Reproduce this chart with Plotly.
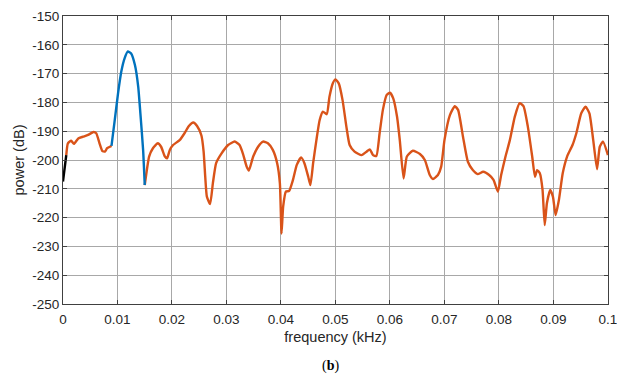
import plotly.graph_objects as go

# Black segment (start)
f_black = [0.0, 0.0006]
p_black = [-207.5, -198.3]

# Orange segment (low frequency part)
f_or1 = [0.0006, 0.0009, 0.0015, 0.0020, 0.0028, 0.0037, 0.0046, 0.0056, 0.0061,
         0.0067, 0.0072, 0.0077, 0.0081, 0.0086, 0.0089]
p_or1 = [-198.3, -194.2, -193.3, -194.4, -192.5, -191.9, -191.3, -190.3, -190.7,
         -194.2, -196.8, -197.1, -195.9, -195.4, -195.1]

# Blue segment (main peak)
f_blue = [0.0089, 0.0095, 0.0101, 0.0107, 0.0113, 0.0119, 0.0125, 0.0132, 0.0138,
          0.0142, 0.0147, 0.0150]
p_blue = [-195.1, -186.1, -176.9, -169.3, -164.7, -162.3, -163.0, -167.0, -174.5,
          -183.8, -196.5, -208.7]

# Orange segment (rest)
f_or2 = [0.0150, 0.0153, 0.0158, 0.0165, 0.0174, 0.0180, 0.0187, 0.0191, 0.0196,
         0.0202, 0.0214, 0.0223, 0.0231, 0.0239, 0.0246, 0.0254, 0.0258, 0.0261,
         0.0264, 0.0270, 0.0275, 0.0281, 0.0291, 0.0303, 0.0315, 0.0324, 0.0330,
         0.0337, 0.0341, 0.0349, 0.0358, 0.0367, 0.0376, 0.0385, 0.0393, 0.0398,
         0.0401, 0.0404, 0.0409, 0.0415, 0.0422, 0.0429, 0.0437, 0.0443, 0.0450,
         0.0454, 0.0459, 0.0465, 0.0471, 0.0477, 0.0484, 0.0489, 0.0495, 0.0500,
         0.0506, 0.0513, 0.0520, 0.0526, 0.0535, 0.0548, 0.0557, 0.0563, 0.0569,
         0.0575, 0.0581, 0.0587, 0.0594, 0.0600, 0.0606, 0.0613, 0.0618, 0.0625,
         0.0631, 0.0642, 0.0655, 0.0664, 0.0673, 0.0679, 0.0688, 0.0694, 0.0700,
         0.0710, 0.0719, 0.0725, 0.0734, 0.0743, 0.0752, 0.0761, 0.0771, 0.0782,
         0.0790, 0.0798, 0.0804, 0.0812, 0.0820, 0.0829, 0.0838, 0.0845, 0.0853,
         0.0861, 0.0866, 0.0870, 0.0875, 0.0880, 0.0884, 0.0888, 0.0894, 0.0899,
         0.0904, 0.0910, 0.0917, 0.0925, 0.0935, 0.0942, 0.0951, 0.0959, 0.0966,
         0.0973, 0.0980, 0.0985, 0.0991, 0.1000]
p_or2 = [-208.7, -204.6, -198.8, -195.9, -194.2, -195.4, -198.8, -199.4, -196.5,
         -194.8, -193.1, -190.7, -188.2, -187.0, -188.2, -191.5, -197.0, -205.8,
         -212.7, -215.3, -208.1, -201.1, -197.7, -194.8, -193.6, -194.8, -197.7,
         -202.3, -203.7, -198.8, -195.4, -193.6, -194.2, -196.5, -201.1, -208.1,
         -225.5, -216.2, -211.0, -210.7, -206.9, -201.7, -199.1, -201.1, -205.8,
         -208.7, -201.1, -193.1, -186.1, -183.2, -184.1, -178.0, -173.4, -172.0,
         -173.4, -179.2, -188.4, -194.8, -197.1, -198.3, -197.1, -196.3, -198.3,
         -198.6, -190.7, -182.6, -177.4, -176.6, -178.6, -185.0, -193.1, -206.4,
         -198.8, -196.8, -197.9, -200.0, -205.2, -206.6, -205.2, -202.3, -193.1,
         -184.4, -181.3, -182.6, -191.9, -200.6, -203.5, -204.9, -204.1, -205.2,
         -206.9, -211.0, -205.2, -198.8, -193.1, -185.0, -180.3, -181.3, -188.4,
         -198.8, -205.8, -203.5, -204.6, -210.4, -222.6, -215.0, -210.4, -212.7,
         -219.1, -213.9, -204.6, -198.8, -194.8, -190.7, -183.8, -181.5, -183.8,
         -193.1, -203.2, -195.4, -193.6, -198.3]

x_ticks = [0, 0.01, 0.02, 0.03, 0.04, 0.05, 0.06, 0.07, 0.08, 0.09, 0.1]
x_tick_labels = ["0", "0.01", "0.02", "0.03", "0.04", "0.05", "0.06", "0.07", "0.08", "0.09", "0.1"]
y_ticks = [-250, -240, -230, -220, -210, -200, -190, -180, -170, -160, -150]
y_tick_labels = ["-250", "-240", "-230", "-220", "-210", "-200", "-190", "-180", "-170", "-160", "-150"]

ORANGE = "#D95319"
BLUE = "#0072BD"
LINE = dict(width=2.4, shape="spline", smoothing=0.5)

fig = go.Figure()
fig.add_trace(go.Scatter(x=f_or1, y=p_or1, mode="lines",
                         line=dict(color=ORANGE, **LINE), showlegend=False))
fig.add_trace(go.Scatter(x=f_or2, y=p_or2, mode="lines",
                         line=dict(color=ORANGE, **LINE), showlegend=False))
fig.add_trace(go.Scatter(x=f_blue, y=p_blue, mode="lines",
                         line=dict(color=BLUE, **LINE), showlegend=False))
fig.add_trace(go.Scatter(x=f_black, y=p_black, mode="lines",
                         line=dict(color="black", width=2.4), showlegend=False))

FONT = "Liberation Sans, Arial"
axis_common = dict(
    showgrid=True, gridcolor="#a8a8a8", gridwidth=1.2,
    showline=True, linecolor="#404040", linewidth=1.2, mirror="ticks",
    ticks="inside", ticklen=4, tickcolor="#404040",
    zeroline=False, automargin=False, ticklabeloverflow="allow",
    tickfont=dict(family=FONT, size=13.5, color="#262626"),
)

fig.update_xaxes(range=[0, 0.10001], tickvals=x_ticks, ticktext=x_tick_labels,
                 ticklabelstandoff=3,
                 title=dict(text="frequency (kHz)", standoff=5,
                            font=dict(family=FONT, size=14.5, color="#262626")),
                 **axis_common)
fig.update_yaxes(range=[-250, -150], tickvals=y_ticks, ticktext=y_tick_labels,
                 title=dict(text="power (dB)", standoff=4,
                            font=dict(family=FONT, size=14.5, color="#262626")),
                 **axis_common)

fig.add_annotation(text="(<b>b</b>)", xref="paper", yref="paper", x=0.49, y=-0.215,
                   showarrow=False, xanchor="center", yanchor="middle",
                   font=dict(family="Liberation Serif, Times New Roman", size=14, color="black"))

fig.update_layout(
    width=617, height=381,
    margin=dict(l=63, r=9, t=16, b=77),
    plot_bgcolor="white", paper_bgcolor="white",
)

fig.write_html("out.html", config={"displayModeBar": False})

# remove default browser page margin so the figure sits at the window origin
with open("out.html", "r", encoding="utf-8") as fh:
    html = fh.read()
html = html.replace("<head>", "<head><style>html,body{margin:0;padding:0;overflow:hidden;}</style>", 1)
with open("out.html", "w", encoding="utf-8") as fh:
    fh.write(html)
